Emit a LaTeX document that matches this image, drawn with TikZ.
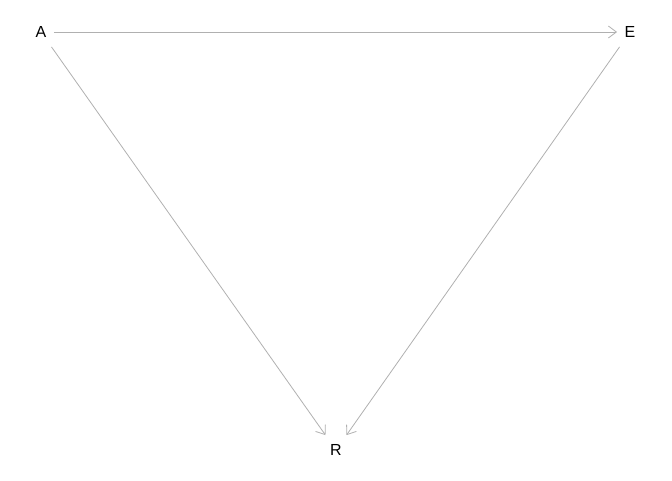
\documentclass[tikz,border=0pt]{standalone}
\usepackage{fontspec}
\setmainfont{Liberation Sans}
\usetikzlibrary{arrows.meta}
\definecolor{edgegray}{HTML}{B0B0B0}
\tikzset{
  vtx/.style={inner sep=0pt, minimum width=19pt, minimum height=22pt, font=\fontsize{12}{14}\selectfont},
  edge/.style={draw=edgegray, line width=0.6pt, -{Straight Barb[length=6pt,width=9pt]}}
}
\begin{document}
\begin{tikzpicture}[x=0.75pt,y=-0.75pt]
\useasboundingbox (0,0) rectangle (672,480);
\node[vtx] (A) at (41,32) {A};
\node[vtx] (E) at (630,32) {E};
\node[vtx] (R) at (336,450) {R};
\draw[edge] (A) -- (E);
\draw[edge] (A) -- (R);
\draw[edge] (E) -- (R);
\end{tikzpicture}
\end{document}
